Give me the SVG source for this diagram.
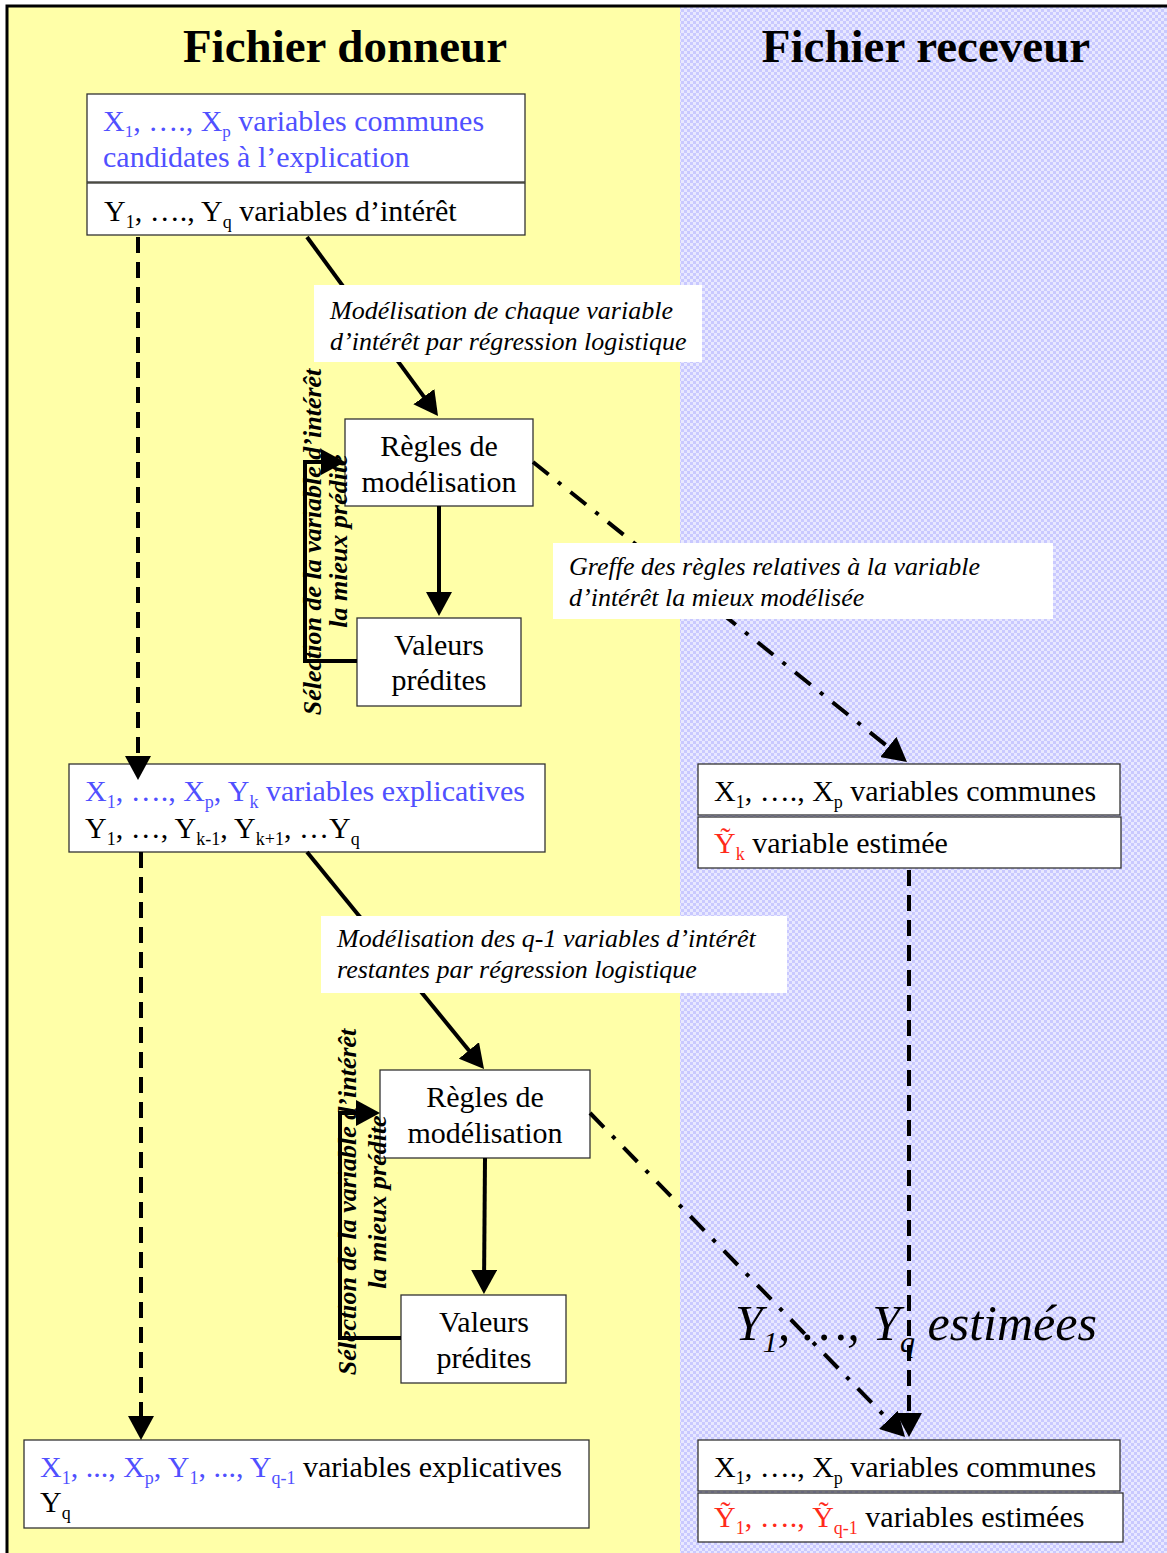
<svg xmlns="http://www.w3.org/2000/svg" width="1167" height="1553" viewBox="0 0 1167 1553">
  <style>
    .t { font-family: "Liberation Serif", "Times New Roman", serif; font-size: 30px; fill: #000; }
    .title { font-family: "Liberation Serif", "Times New Roman", serif; font-size: 47px; font-weight: bold; fill: #000; }
    .lbl { font-family: "Liberation Serif", "Times New Roman", serif; font-size: 26px; font-style: italic; fill: #000; }
    .big { font-family: "Liberation Serif", "Times New Roman", serif; font-size: 50px; font-style: italic; fill: #000; }
    .rot { font-family: "Liberation Serif", "Times New Roman", serif; font-size: 26px; font-style: italic; font-weight: bold; fill: #000; }
    .blue { fill: #5050ff; }
    .red { fill: #ff2a1a; }
    .box { fill: #fff; stroke: #333; stroke-width: 1.3; }
    .lblbox { fill: #fff; stroke: none; }
    .solid { fill: none; stroke: #000; stroke-width: 4; }
    .dash { fill: none; stroke: #000; stroke-width: 4; stroke-dasharray: 16 9; }
    .dashdot { fill: none; stroke: #000; stroke-width: 4; stroke-dasharray: 20 12 4 12; }
  </style>
  <defs>
    <pattern id="checker" width="6" height="6" patternUnits="userSpaceOnUse">
      <rect width="6" height="6" fill="#e8e8ff"/>
      <rect width="3" height="3" fill="#c9c9ff"/>
      <rect x="3" y="3" width="3" height="3" fill="#c9c9ff"/>
    </pattern>
    <marker id="arrow" viewBox="0 0 24 26" refX="4" refY="13" markerWidth="24" markerHeight="26" markerUnits="userSpaceOnUse" orient="auto">
      <path d="M0,0 L24,13 L0,26 z" fill="#000"/>
    </marker>
  </defs>

  <!-- background panels -->
  <rect x="0" y="0" width="1167" height="1553" fill="#fff"/>
  <rect x="8" y="7" width="672" height="1546" fill="#ffffa8"/>
  <rect x="680" y="7" width="487" height="1546" fill="url(#checker)"/>
  <path d="M7,1553 V6 H1167" fill="none" stroke="#000" stroke-width="3"/>

  <text class="title" x="345" y="62" text-anchor="middle">Fichier donneur</text>
  <text class="title" x="926" y="62" text-anchor="middle">Fichier receveur</text>

  <!-- donor file: initial variables -->
  <g id="donor-start">
    <rect class="box" x="87" y="94" width="438" height="88"/>
    <rect class="box" x="87" y="183" width="438" height="52"/>
    <text class="t blue" x="103" y="131">X<tspan font-size="17" dy="6">1</tspan><tspan dy="-6">, …., X</tspan><tspan font-size="17" dy="6">p</tspan><tspan dy="-6"> variables communes</tspan></text>
    <text class="t blue" x="103" y="167">candidates à l’explication</text>
    <text class="t" x="104" y="221">Y<tspan font-size="18" dy="7">1</tspan><tspan dy="-7">, …., Y</tspan><tspan font-size="18" dy="7">q</tspan><tspan dy="-7"> variables d’intérêt</tspan></text>
  </g>

  <g id="rules-1">
    <rect class="box" x="345" y="419" width="188" height="87"/>
    <text class="t" x="439" y="456" text-anchor="middle">Règles de</text>
    <text class="t" x="439" y="492" text-anchor="middle">modélisation</text>
  </g>

  <g id="predicted-1">
    <rect class="box" x="357" y="618" width="164" height="88"/>
    <text class="t" x="439" y="655" text-anchor="middle">Valeurs</text>
    <text class="t" x="439" y="690" text-anchor="middle">prédites</text>
  </g>

  <g id="donor-step2">
    <rect class="box" x="69" y="764" width="476" height="88"/>
    <text class="t blue" x="85" y="801">X<tspan font-size="18" dy="7">1</tspan><tspan dy="-7">, …., X</tspan><tspan font-size="18" dy="7">p</tspan><tspan dy="-7">, Y</tspan><tspan font-size="18" dy="7">k</tspan><tspan dy="-7"> variables explicatives</tspan></text>
    <text class="t" x="85" y="838">Y<tspan font-size="18" dy="7">1</tspan><tspan dy="-7">, …, Y</tspan><tspan font-size="18" dy="7">k-1</tspan><tspan dy="-7">, Y</tspan><tspan font-size="18" dy="7">k+1</tspan><tspan dy="-7">, …Y</tspan><tspan font-size="18" dy="7">q</tspan></text>
  </g>

  <g id="receiver-step1">
    <rect class="box" x="698" y="764" width="422" height="51"/>
    <rect class="box" x="698" y="817" width="423" height="51"/>
    <text class="t" x="714" y="801">X<tspan font-size="18" dy="7">1</tspan><tspan dy="-7">, …., X</tspan><tspan font-size="18" dy="7">p</tspan><tspan dy="-7"> variables communes</tspan></text>
    <text class="t" x="714" y="853"><tspan class="red">Ỹ</tspan><tspan class="red" font-size="18" dy="7">k</tspan><tspan dy="-7"> variable estimée</tspan></text>
  </g>

  <g id="rules-2">
    <rect class="box" x="380" y="1070" width="210" height="88"/>
    <text class="t" x="485" y="1107" text-anchor="middle">Règles de</text>
    <text class="t" x="485" y="1143" text-anchor="middle">modélisation</text>
  </g>

  <g id="predicted-2">
    <rect class="box" x="401" y="1295" width="165" height="88"/>
    <text class="t" x="484" y="1332" text-anchor="middle">Valeurs</text>
    <text class="t" x="484" y="1368" text-anchor="middle">prédites</text>
  </g>

  <g id="donor-final">
    <rect class="box" x="24" y="1440" width="565" height="88"/>
    <text class="t" x="40" y="1477"><tspan class="blue">X</tspan><tspan class="blue" font-size="18" dy="7">1</tspan><tspan class="blue" dy="-7">, ..., X</tspan><tspan class="blue" font-size="18" dy="7">p</tspan><tspan class="blue" dy="-7">, Y</tspan><tspan class="blue" font-size="18" dy="7">1</tspan><tspan class="blue" dy="-7">, ..., Y</tspan><tspan class="blue" font-size="18" dy="7">q-1</tspan><tspan dy="-7"> variables explicatives</tspan></text>
    <text class="t" x="40" y="1512">Y<tspan font-size="18" dy="7">q</tspan></text>
  </g>

  <g id="receiver-final">
    <rect class="box" x="698" y="1440" width="422" height="51"/>
    <rect class="box" x="698" y="1493" width="425" height="49"/>
    <text class="t" x="714" y="1477">X<tspan font-size="18" dy="7">1</tspan><tspan dy="-7">, …., X</tspan><tspan font-size="18" dy="7">p</tspan><tspan dy="-7"> variables communes</tspan></text>
    <text class="t" x="714" y="1527"><tspan class="red">Ỹ</tspan><tspan class="red" font-size="18" dy="7">1</tspan><tspan class="red" dy="-7">, …., Ỹ</tspan><tspan class="red" font-size="18" dy="7">q-1</tspan><tspan dy="-7"> variables estimées</tspan></text>
  </g>

  <g id="estimated-label">
    <text class="big" x="735" y="1340">Y<tspan font-size="30" dy="12">1</tspan><tspan dy="-12">, …,  Y</tspan><tspan font-size="30" dy="12">q</tspan><tspan dy="-12"> estimées</tspan></text>
  </g>

  <!-- connectors -->
  <g id="connectors">
    <path class="solid" d="M307,237 L426.2,399.9" marker-end="url(#arrow)"/>
    <path class="solid" d="M439,506 V596" marker-end="url(#arrow)"/>
    <path class="solid" d="M357,661 H305 V462 H325" marker-end="url(#arrow)"/>
    <path class="dash" d="M138,237 V760" marker-end="url(#arrow)"/>
    <path class="dashdot" d="M533,462 L891.4,749.5" marker-end="url(#arrow)"/>
    <path class="solid" d="M307,852 L471.4,1053.5" marker-end="url(#arrow)"/>
    <path class="solid" d="M485,1158 L484.1,1274" marker-end="url(#arrow)"/>
    <path class="solid" d="M401,1338 H340 V1113 H360" marker-end="url(#arrow)"/>
    <path class="dash" d="M141,852 V1420" marker-end="url(#arrow)"/>
    <path class="dash" d="M909,870 V1417" marker-end="url(#arrow)"/>
    <path class="dashdot" d="M590,1113 L891.1,1422.7" marker-end="url(#arrow)"/>
  </g>

  <!-- connector labels -->
  <g id="label-modelling-1">
    <rect class="lblbox" x="314" y="285" width="388" height="77"/>
    <text class="lbl" x="330" y="319">Modélisation de chaque variable</text>
    <text class="lbl" x="330" y="350">d’intérêt par régression logistique</text>
  </g>
  <g id="label-graft">
    <rect class="lblbox" x="553" y="543" width="500" height="76"/>
    <text class="lbl" x="569" y="575">Greffe des règles relatives à la variable</text>
    <text class="lbl" x="569" y="606">d’intérêt la mieux modélisée</text>
  </g>
  <g id="label-modelling-2">
    <rect class="lblbox" x="321" y="916" width="466" height="77"/>
    <text class="lbl" x="337" y="947">Modélisation des q-1 variables d’intérêt</text>
    <text class="lbl" x="337" y="978">restantes par régression logistique</text>
  </g>
  <g id="label-selection-1">
    <text class="rot" transform="translate(321,542) rotate(-90)" text-anchor="middle">Sélection de la variable d’intérêt</text>
    <text class="rot" transform="translate(347,541) rotate(-90)" text-anchor="middle">la mieux prédite</text>
  </g>
  <g id="label-selection-2">
    <text class="rot" transform="translate(356,1202) rotate(-90)" text-anchor="middle">Sélection de la variable d’intérêt</text>
    <text class="rot" transform="translate(386,1202) rotate(-90)" text-anchor="middle">la mieux prédite</text>
  </g>
</svg>
